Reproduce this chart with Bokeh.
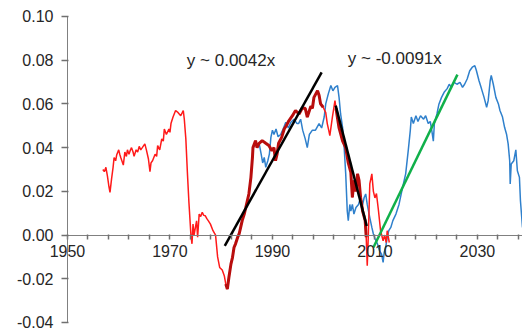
from bokeh.plotting import figure
from bokeh.models import FixedTicker, NumeralTickFormatter, Label
from bokeh.embed import file_html
from bokeh.resources import INLINE

# Observed series (red), 1957-2013
red_year = [
    1956.9, 1957.2, 1957.5, 1957.8, 1958.1, 1958.3, 1958.6, 1958.9, 1959.1, 1959.4,
    1959.6, 1960.0, 1960.2, 1960.4, 1960.9, 1961.2, 1961.5, 1961.7, 1962.0, 1962.3,
    1962.5, 1962.8, 1963.0, 1963.4, 1963.7, 1964.0, 1964.3, 1964.6, 1965.1, 1965.4,
    1965.8, 1966.1, 1966.3, 1966.6, 1967.1, 1967.4, 1967.6, 1968.0, 1968.4, 1968.7,
    1968.9, 1969.3, 1969.8, 1970.0, 1970.2, 1970.6, 1971.1, 1971.6, 1972.1, 1972.4,
    1972.6, 1972.8, 1973.1, 1973.4, 1973.7, 1974.1, 1974.3, 1974.5, 1974.7, 1975.0,
    1975.2, 1975.4, 1975.7, 1976.0, 1976.3, 1976.6, 1976.9, 1977.2, 1977.5, 1977.9,
    1978.4, 1978.9, 1979.3, 1979.7, 1980.2, 1980.6, 1980.9, 1981.2, 1981.5, 1981.9,
    1982.2, 1982.5, 1982.8, 1983.2, 1983.5, 1983.8, 1984.1, 1984.5, 1984.8, 1985.1,
    1985.4, 1985.8, 1986.1, 1986.2, 1986.7, 1987.0, 1987.4, 1988.0, 1988.7, 1989.3,
    1989.9, 1990.3, 1990.6, 1990.9, 1991.2, 1991.8, 1992.3, 1992.7, 1993.2, 1993.9,
    1994.5, 1995.2, 1995.8, 1996.4, 1996.8, 1997.5, 1997.8, 1998.1, 1998.8, 1999.1,
    1999.4, 1999.9, 2000.4, 2000.7, 2001.0, 2001.2, 2001.7, 2002.0, 2002.2, 2002.4,
    2003.0, 2003.7, 2004.3, 2004.8, 2005.3, 2005.6, 2005.9, 2006.3, 2006.6, 2006.9,
    2007.2, 2007.6, 2008.1, 2008.3, 2008.5, 2008.7, 2009.0, 2009.4, 2009.7, 2010.0,
    2010.3, 2010.7, 2011.1, 2011.6, 2011.9, 2012.2, 2012.4, 2012.8,
]
red_value = [
    0.030, 0.029, 0.031, 0.027, 0.022, 0.0195, 0.0256, 0.031, 0.0355, 0.034,
    0.0366, 0.039, 0.037, 0.0355, 0.032, 0.038, 0.036, 0.039, 0.037, 0.039,
    0.040, 0.038, 0.036, 0.039, 0.038, 0.0406, 0.039, 0.040, 0.0417, 0.039,
    0.0348, 0.029, 0.033, 0.034, 0.037, 0.036, 0.041, 0.039, 0.044, 0.043,
    0.0485, 0.046, 0.0485, 0.047, 0.051, 0.054, 0.057, 0.056, 0.0546, 0.056,
    0.057, 0.053, 0.044, 0.0287, 0.015, -0.0003, -0.004, 0.005, 0.000, 0.004,
    0.0065, -0.001, 0.0096, 0.0085, 0.0104, 0.009, 0.0088, 0.0075, 0.0065, 0.005,
    0.002, 0.000, -0.010, -0.0148, -0.016, -0.0186, -0.0224, -0.0247, -0.0194, -0.0133,
    -0.0103, -0.0057, -0.004, -0.0011, 0.0005, 0.0035, 0.0066, 0.0096, 0.0126, 0.0157,
    0.0188, 0.0264, 0.0355, 0.040, 0.0432, 0.040, 0.042, 0.0432, 0.042, 0.041,
    0.0386, 0.040, 0.034, 0.037, 0.042, 0.0447, 0.0485, 0.050, 0.0523, 0.0546,
    0.057, 0.0554, 0.058, 0.058, 0.054, 0.059, 0.058, 0.063, 0.066, 0.064,
    0.060, 0.0585, 0.056, 0.051, 0.0478, 0.0455, 0.054, 0.0584, 0.0615, 0.058,
    0.049, 0.043, 0.040, 0.033, 0.0287, 0.0172, 0.025, 0.020, 0.028, 0.025,
    0.0172, 0.011, 0.0066, -0.001, -0.014, -0.001, 0.0234, 0.028, 0.020, 0.017,
    0.019, 0.011, 0.002, -0.0026, 0.000, -0.0034, 0.002, -0.0034,
]

# Leading series (blue), 1987-2039
blue_year = [
    1987.0, 1987.4, 1987.8, 1988.1, 1988.4, 1988.7, 1989.1, 1989.4, 1989.7, 1990.0,
    1990.3, 1990.7, 1991.1, 1991.6, 1992.0, 1992.6, 1993.1, 1993.6, 1994.2, 1994.8,
    1995.1, 1995.5, 1995.9, 1996.4, 1996.8, 1997.2, 1997.8, 1998.4, 1999.1, 1999.6,
    2000.1, 2000.4, 2000.9, 2001.4, 2001.8, 2002.2, 2002.7, 2003.0, 2003.3, 2003.7,
    2004.0, 2004.3, 2004.6, 2004.8, 2005.1, 2005.3, 2005.6, 2005.9, 2006.3, 2006.8,
    2007.2, 2007.6, 2007.9, 2008.2, 2008.5, 2009.0, 2009.4, 2009.7, 2010.0, 2010.5,
    2010.9, 2011.3, 2011.6, 2011.8, 2012.1, 2012.4, 2012.7, 2013.1, 2013.5, 2014.1,
    2014.7, 2015.4, 2016.0, 2016.5, 2016.9, 2017.1, 2017.5, 2018.0, 2018.4, 2018.9,
    2019.5, 2019.9, 2020.4, 2020.8, 2021.1, 2021.4, 2021.6, 2022.1, 2022.5, 2023.0,
    2023.5, 2024.1, 2024.5, 2024.9, 2025.4, 2026.0, 2026.6, 2027.1, 2027.5, 2028.0,
    2028.5, 2029.0, 2029.5, 2029.8, 2030.3, 2030.8, 2031.3, 2031.8, 2032.1, 2032.5,
    2032.7, 2033.1, 2033.6, 2034.1, 2034.4, 2034.9, 2035.3, 2035.7, 2036.0, 2036.3,
    2036.4, 2036.6, 2037.1, 2037.5, 2037.8, 2038.2, 2038.4, 2038.8,
]
blue_value = [
    0.041, 0.042, 0.037, 0.033, 0.0355, 0.031, 0.034, 0.037, 0.0447, 0.048,
    0.046, 0.0485, 0.045, 0.046, 0.048, 0.0516, 0.049, 0.0516, 0.053, 0.051,
    0.051, 0.053, 0.048, 0.044, 0.040, 0.046, 0.048, 0.048, 0.051, 0.049,
    0.054, 0.060, 0.0646, 0.0684, 0.066, 0.0676, 0.0684, 0.063, 0.0554, 0.049,
    0.040, 0.028, 0.011, 0.0066, 0.014, 0.011, 0.014, 0.0096, 0.0126, 0.014,
    0.0172, 0.014, 0.0172, 0.0188, 0.014, 0.008, 0.0035, 0.0005, -0.0015, -0.0041,
    -0.0072, -0.0087, -0.0125, -0.008, -0.0056, -0.0011, 0.002, 0.0035, 0.0066, 0.0096,
    0.014, 0.0218, 0.028, 0.0386, 0.0478, 0.054, 0.051, 0.0546, 0.052, 0.0546,
    0.053, 0.0546, 0.051, 0.052, 0.0478, 0.043, 0.051, 0.0554, 0.060, 0.063,
    0.0653, 0.067, 0.069, 0.0676, 0.070, 0.069, 0.0699, 0.0676, 0.069, 0.0714,
    0.0752, 0.0768, 0.0775, 0.0753, 0.0707, 0.0669, 0.063, 0.0584, 0.0615, 0.0707,
    0.073, 0.069, 0.063, 0.060, 0.057, 0.054, 0.0493, 0.046, 0.0417, 0.034,
    0.0234, 0.0325, 0.034, 0.039, 0.0294, 0.0264, 0.0157, 0.0035,
]

# Periods of the red series used for the two trend fits
fit_periods = [(1980.9, 2000.0), (2002.4, 2008.3)]

# Trend lines: start year, end year, value at start, slope per year
trend_up = (1980.7, 1999.6, -0.0049, 0.0042)
trend_down = (2002.35, 2008.4, 0.0592, -0.0091)
trend_labels = ["y ~ 0.0042x", "y ~ -0.0091x"]

# Projected trend (green)
proj_year = [2009.7, 2026.1]
proj_value = [-0.0057, 0.0734]

y_ticks = [-0.04, -0.02, 0.0, 0.02, 0.04, 0.06, 0.08, 0.10]
x_ticks = list(range(1950, 2039, 4))
x_labelled = [1950, 1970, 1990, 2010, 2030]

FONT = "Liberation Sans"
TEXT = "#262626"
AXIS = "#808080"
TICK = "#707070"

# The frame fills the whole canvas; both axes sit at fixed data locations
# (y axis at 1950, x axis at 0) so their labels are never cut off.
p = figure(
    width=522, height=331,
    x_range=(1936.93, 2038.8), y_range=(-0.04412, 0.10732),
    output_backend="svg", toolbar_location=None,
    min_border_left=0, min_border_right=0, min_border_top=0, min_border_bottom=0,
)
p.background_fill_color = "white"
p.border_fill_color = "white"
p.outline_line_color = None
p.xgrid.visible = False
p.ygrid.visible = False

p.line(blue_year, blue_value, line_color="#2f80cc", line_width=1.5)
p.line(red_year, red_value, line_color="#ff1a1a", line_width=1.5)

for start, end in fit_periods:
    xs = [x for x in red_year if start <= x <= end]
    ys = [v for x, v in zip(red_year, red_value) if start <= x <= end]
    p.line(xs, ys, line_color="#b80d0d", line_width=3)

for x0, x1, y0, slope in (trend_up, trend_down):
    p.line([x0, x1], [y0, y0 + slope * (x1 - x0)], line_color="black", line_width=2.5)

p.line(proj_year, proj_value, line_color="#10b04a", line_width=2.5)

p.add_layout(Label(x=1973.3, y=0.0798, text=trend_labels[0], text_font=FONT,
                   text_font_size="17px", text_color=TEXT, text_baseline="middle"))
p.add_layout(Label(x=2004.7, y=0.0808, text=trend_labels[1], text_font=FONT,
                   text_font_size="17px", text_color=TEXT, text_baseline="middle"))

xa = p.xaxis[0]
xa.fixed_location = 0
xa.bounds = (1950, 2038.8)
xa.ticker = FixedTicker(ticks=x_ticks)
xa.major_label_overrides = {t: (str(t) if t in x_labelled else "") for t in x_ticks}
xa.major_tick_in = 1
xa.major_tick_out = 4
xa.minor_tick_line_color = None
xa.axis_line_color = AXIS
xa.major_tick_line_color = TICK
xa.major_tick_line_width = 1.5
xa.major_label_standoff = 6
xa.major_label_text_font = FONT
xa.major_label_text_font_size = "16px"
xa.major_label_text_color = TEXT

ya = p.yaxis[0]
ya.fixed_location = 1950
ya.bounds = (-0.04, 0.10)
ya.ticker = FixedTicker(ticks=y_ticks)
ya.formatter = NumeralTickFormatter(format="0.00")
ya.major_tick_in = 1
ya.major_tick_out = 6
ya.minor_tick_line_color = None
ya.axis_line_color = AXIS
ya.major_tick_line_color = TICK
ya.major_tick_line_width = 1.5
ya.major_label_standoff = 8
ya.major_label_text_font = FONT
ya.major_label_text_font_size = "16px"
ya.major_label_text_color = TEXT

open("out.html", "w").write(file_html(p, INLINE))
